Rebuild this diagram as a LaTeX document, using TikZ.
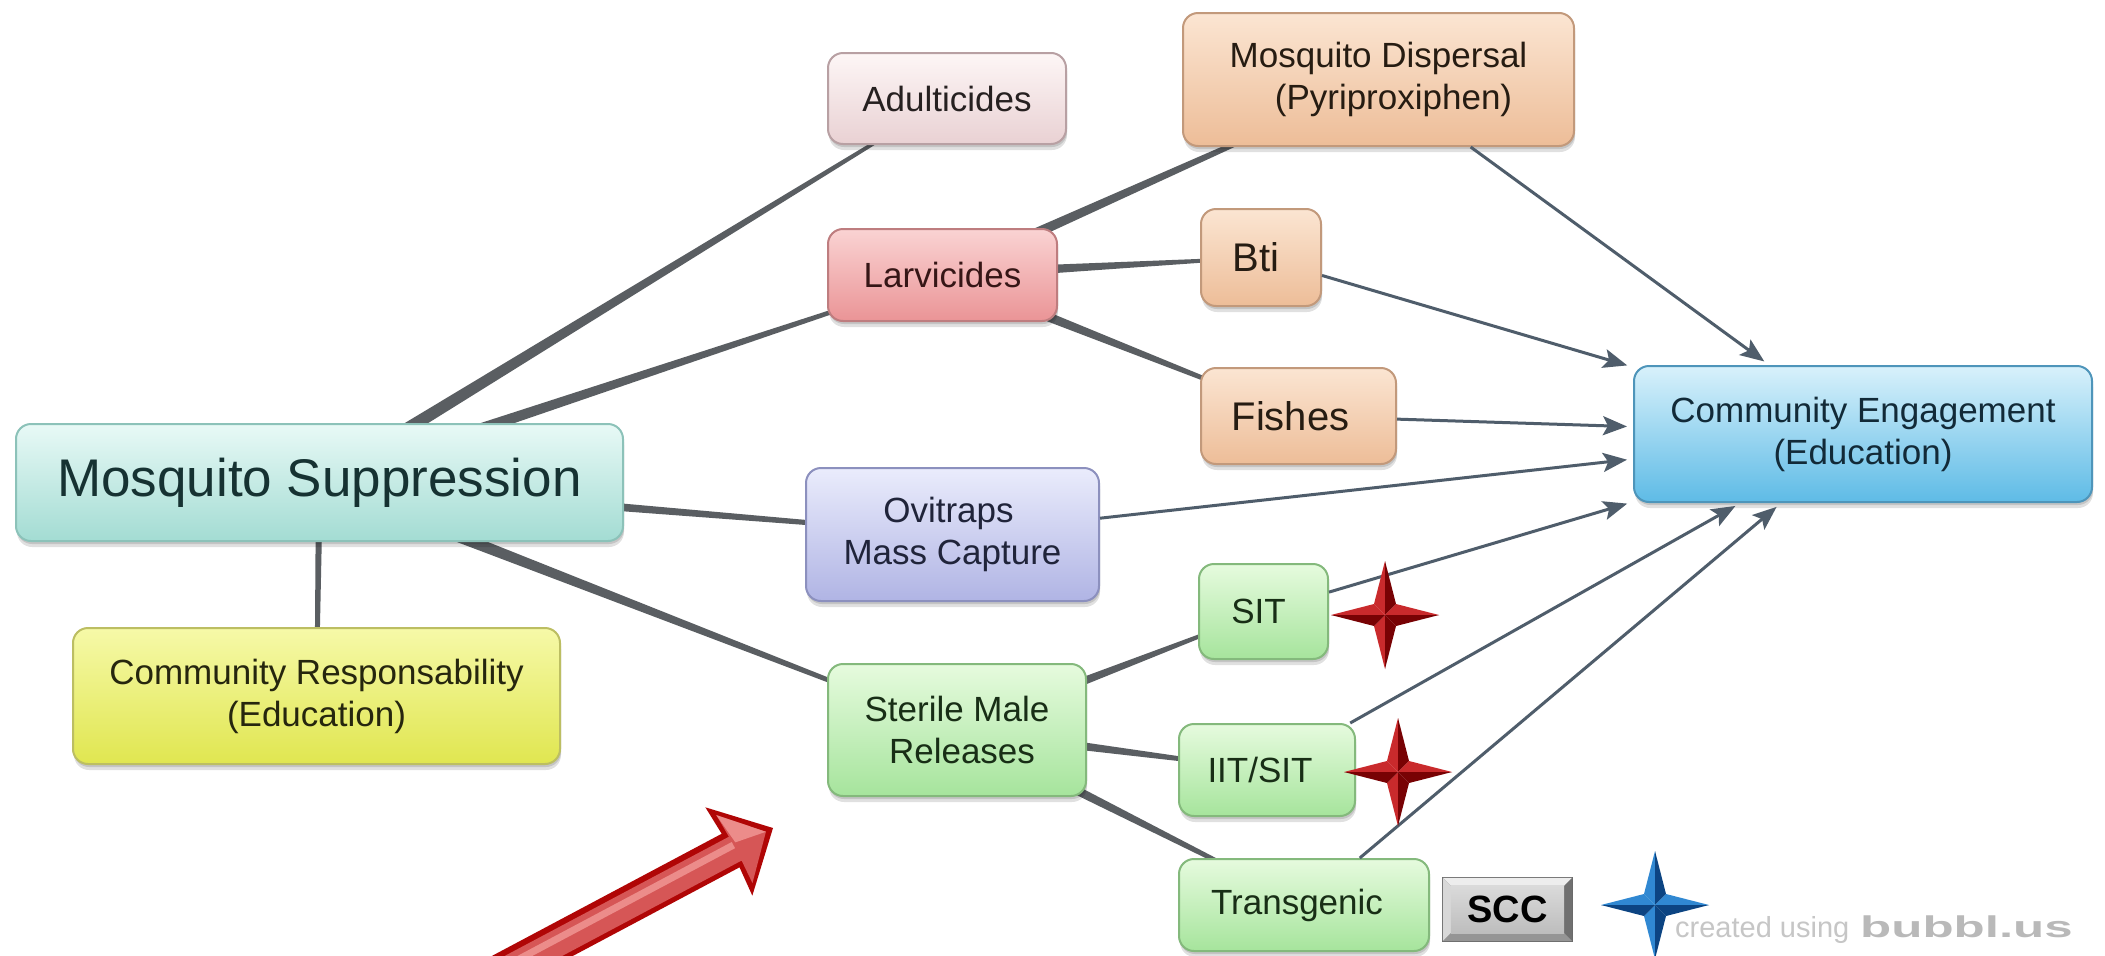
\documentclass[tikz,border=0pt]{standalone}
\usepackage{fontspec}
\usepackage{graphicx}
\setmainfont{Liberation Sans}
\usetikzlibrary{calc,arrows.meta,shadows}
\pgfdeclarelayer{bg}
\pgfsetlayers{bg,main}

% node palettes: T = top, L = bottom, B = border, X = text
\definecolor{mintT}{HTML}{E8F9F6}\definecolor{mintL}{HTML}{A3DCD3}\definecolor{mintB}{HTML}{8CC2B9}\definecolor{mintX}{HTML}{163232}
\definecolor{yelT}{HTML}{F6F9A8}\definecolor{yelL}{HTML}{E0E650}\definecolor{yelB}{HTML}{BCBE62}\definecolor{yelX}{HTML}{26260E}
\definecolor{roseT}{HTML}{FDF6F6}\definecolor{roseL}{HTML}{E9D1D3}\definecolor{roseB}{HTML}{B8A0A3}\definecolor{roseX}{HTML}{262020}
\definecolor{peachT}{HTML}{FBE5D2}\definecolor{peachL}{HTML}{EDBD98}\definecolor{peachB}{HTML}{C2997B}\definecolor{peachX}{HTML}{261C12}
\definecolor{pinkT}{HTML}{FAD3D3}\definecolor{pinkL}{HTML}{EA9496}\definecolor{pinkB}{HTML}{BE7D7F}\definecolor{pinkX}{HTML}{361616}
\definecolor{lavT}{HTML}{EAECFC}\definecolor{lavL}{HTML}{B0B4E4}\definecolor{lavB}{HTML}{8C90BE}\definecolor{lavX}{HTML}{20243A}
\definecolor{grnT}{HTML}{E6FBDE}\definecolor{grnL}{HTML}{A6E49C}\definecolor{grnB}{HTML}{84B97C}\definecolor{grnX}{HTML}{182E16}
\definecolor{bluT}{HTML}{D8F1FB}\definecolor{bluL}{HTML}{5EBBE6}\definecolor{bluB}{HTML}{4E95BA}\definecolor{bluX}{HTML}{122A38}
% connectors, stars, badge, watermark
\definecolor{linkcol}{HTML}{5A5E62}
\definecolor{arrcol}{HTML}{4F5D6B}
\definecolor{redL}{HTML}{C92A2C}\definecolor{redD}{HTML}{780204}
\definecolor{bluStarL}{HTML}{3088D2}\definecolor{bluStarD}{HTML}{0C4482}
\definecolor{bigD}{HTML}{B00606}\definecolor{bigM}{HTML}{D65656}\definecolor{bigH}{HTML}{EC8C8A}
\definecolor{sccEdge}{HTML}{6A6A6A}\definecolor{sccTop}{HTML}{EDEDED}\definecolor{sccLeft}{HTML}{D8D8D8}
\definecolor{sccRight}{HTML}{707070}\definecolor{sccBot}{HTML}{959595}
\definecolor{sccFaceT}{HTML}{DADADA}\definecolor{sccFaceL}{HTML}{BDBDBD}
\definecolor{wmA}{HTML}{C6C6C6}\definecolor{wmB}{HTML}{B9B9B9}

\tikzset{
  box/.style={rounded corners=15pt, draw, line width=2pt, inner sep=0pt, align=center,
    font=\fontsize{35}{42}\selectfont,
    drop shadow={shadow xshift=1pt, shadow yshift=-6pt, opacity=0.12, fill=black},
    drop shadow={shadow xshift=1pt, shadow yshift=-3pt, opacity=0.12, fill=black}},
  mintbox/.style={box, draw=mintB, top color=mintT, bottom color=mintL, text=mintX},
  yelbox/.style={box, draw=yelB, top color=yelT, bottom color=yelL, text=yelX},
  rosebox/.style={box, draw=roseB, top color=roseT, bottom color=roseL, text=roseX},
  peachbox/.style={box, draw=peachB, top color=peachT, bottom color=peachL, text=peachX},
  pinkbox/.style={box, draw=pinkB, top color=pinkT, bottom color=pinkL, text=pinkX},
  lavbox/.style={box, draw=lavB, top color=lavT, bottom color=lavL, text=lavX},
  grnbox/.style={box, draw=grnB, top color=grnT, bottom color=grnL, text=grnX},
  blubox/.style={box, draw=bluB, top color=bluT, bottom color=bluL, text=bluX},
  arr/.style={draw=arrcol, line width=3pt, -{Stealth[length=24pt,width=19pt,inset=5pt]}, shorten >=6pt},
}

% tapered link from node #1 (half width #3) to node #2 (half width #4)
\newcommand{\taper}[4]{%
  \fill[linkcol] ($(#1.center)!#3!90:(#2.center)$) -- ($(#2.center)!#4!-90:(#1.center)$)
    -- ($(#2.center)!#4!90:(#1.center)$) -- ($(#1.center)!#3!-90:(#2.center)$) -- cycle;}

% four-pointed bevelled star: centre, outer radius, inner radius, light, dark
\newcommand{\fourstar}[5]{%
  \begin{scope}[shift={(#1)}]
    \fill[#4] (0,0) -- (0,-#2) -- (-#3,-#3) -- cycle;
    \fill[#5] (0,0) -- (0,-#2) -- (#3,-#3) -- cycle;
    \fill[#4] (0,0) -- (#2,0) -- (#3,-#3) -- cycle;
    \fill[#5] (0,0) -- (#2,0) -- (#3,#3) -- cycle;
    \fill[#4] (0,0) -- (0,#2) -- (-#3,#3) -- cycle;
    \fill[#5] (0,0) -- (0,#2) -- (#3,#3) -- cycle;
    \fill[#4] (0,0) -- (-#2,0) -- (-#3,-#3) -- cycle;
    \fill[#5] (0,0) -- (-#2,0) -- (-#3,#3) -- cycle;
  \end{scope}}

\begin{document}
\begin{tikzpicture}[x=1pt,y=-1pt]
\begin{pgfonlayer}{bg}
  \fill[white] (0,0) rectangle (2105,956);
\end{pgfonlayer}
\useasboundingbox (0,0) rectangle (2105,956);

% ---- nodes ----
\node[mintbox, minimum width=607pt, minimum height=117pt, font=\fontsize{53}{60}\selectfont] (ms) at (319.5,482.5) {Mosquito Suppression};
\node[yelbox, minimum width=487pt, minimum height=136pt] (cr) at (316.5,696) {Community Responsability\\(Education)};
\node[rosebox, minimum width=238pt, minimum height=91pt] (adult) at (947,98.5) {Adulticides};
\node[peachbox, minimum width=391pt, minimum height=133pt] (disp) at (1378.5,79.5) {Mosquito Dispersal\\\hspace*{30pt}(Pyriproxiphen)};
\node[pinkbox, minimum width=229pt, minimum height=92pt] (larv) at (942.5,275) {Larvicides};
\node[peachbox, minimum width=120pt, minimum height=97pt, font=\fontsize{40}{46}\selectfont] (bti) at (1261,257.5) {Bti\hspace*{10pt}};
\node[peachbox, minimum width=195pt, minimum height=96pt, font=\fontsize{40}{46}\selectfont] (fish) at (1298.5,416) {Fishes\hspace*{16pt}};
\node[lavbox, minimum width=293pt, minimum height=133pt] (ovi) at (952.5,534.5) {Ovitraps\hspace*{8pt}\\Mass Capture};
\node[grnbox, minimum width=258pt, minimum height=132pt] (ster) at (957,730) {Sterile Male\\\hspace*{10pt}Releases};
\node[grnbox, minimum width=129pt, minimum height=95pt] (sit) at (1263.5,611.5) {SIT\hspace*{10pt}};
\node[grnbox, minimum width=176pt, minimum height=92pt] (iit) at (1267,770) {IIT/SIT\hspace*{14pt}};
\node[grnbox, minimum width=250pt, minimum height=92pt] (trans) at (1304,905) {Transgenic\hspace*{14pt}};
\node[blubox, minimum width=458pt, minimum height=136pt] (ce) at (1863,434) {Community Engagement\\(Education)};

% ---- SCC badge ----
\node[minimum width=131pt, minimum height=65pt, inner sep=0pt, font=\bfseries\fontsize{38}{40}\selectfont] (scc) at (1507.5,909.5) {SCC};
\begin{pgfonlayer}{bg}
  \fill[sccEdge] (scc.north west) rectangle (scc.south east);
  \fill[sccTop] ($(scc.north west)+(1,1)$) -- ($(scc.north east)+(-1,1)$) -- ($(scc.north east)+(-9,9)$) -- ($(scc.north west)+(9,9)$) -- cycle;
  \fill[sccLeft] ($(scc.north west)+(1,1)$) -- ($(scc.north west)+(9,9)$) -- ($(scc.south west)+(9,-9)$) -- ($(scc.south west)+(1,-1)$) -- cycle;
  \fill[sccRight] ($(scc.north east)+(-1,1)$) -- ($(scc.south east)+(-1,-1)$) -- ($(scc.south east)+(-9,-9)$) -- ($(scc.north east)+(-9,9)$) -- cycle;
  \fill[sccBot] ($(scc.south west)+(1,-1)$) -- ($(scc.south west)+(9,-9)$) -- ($(scc.south east)+(-9,-9)$) -- ($(scc.south east)+(-1,-1)$) -- cycle;
  \shade[top color=sccFaceT, bottom color=sccFaceL] ($(scc.north west)+(9,9)$) rectangle ($(scc.south east)+(-9,-9)$);
\end{pgfonlayer}

% ---- tapered links ----
\begin{pgfonlayer}{bg}
  \taper{ms}{adult}{7pt}{1.2pt}
  \taper{ms}{larv}{7pt}{1.2pt}
  \taper{ms}{ovi}{6pt}{1.5pt}
  \taper{ms}{ster}{7pt}{1.2pt}
  \taper{ms}{cr}{3.5pt}{2pt}
  \taper{larv}{disp}{6pt}{1pt}
  \taper{larv}{bti}{6pt}{1pt}
  \taper{larv}{fish}{6pt}{1pt}
  \taper{ster}{sit}{6pt}{1pt}
  \taper{ster}{iit}{6pt}{1pt}
  \taper{ster}{trans}{6pt}{1pt}
\end{pgfonlayer}

% ---- arrows into Community Engagement ----
\draw[arr] (disp) -- (ce);
\draw[arr] (bti) -- (ce);
\draw[arr] (fish) -- (ce);
\draw[arr] (ovi) -- (ce);
\draw[arr] (sit) -- (ce);
\draw[arr] (iit) -- (ce);
\draw[arr] (trans) -- (ce);

% ---- stars ----
\coordinate (starA) at (1385,615);
\coordinate (starB) at (1398,772);
\coordinate (starC) at (1655,905);
\fourstar{starA}{54}{11}{redL}{redD}
\fourstar{starB}{54}{11}{redL}{redD}
\fourstar{starC}{54}{11}{bluStarL}{bluStarD}

% ---- watermark ----
\node[anchor=base west, inner sep=0pt, text=wmA, font=\fontsize{29}{30}\selectfont] (cu) at (1675,937) {created using};
\node[anchor=base west, inner sep=0pt, text=wmB, font=\bfseries\fontsize{30}{30}\selectfont] (bb) at (1860,937) {\scalebox{1.7}[1]{bubbl.us}};

% ---- big 3D pointer ----
\begin{scope}
  \clip (0,0) rectangle (2105,956);
  \begin{scope}[shift={(773,828)}, rotate=28]
    \fill[bigD] (0,0) -- (-50,-50) -- (-48,-19) -- (-520,-19) -- (-520,19) -- (-48,19) -- (-50,50) -- cycle;
    \fill[bigM] (-8,0) -- (-44,-38) -- (-43,-13) -- (-520,-13) -- (-520,14) -- (-43,14) -- (-44,39) -- cycle;
    \fill[bigH] (-8,0) -- (-44,-38) -- (-40,-5) -- cycle;
    \fill[bigH] (-43,-7) rectangle (-520,0);
  \end{scope}
\end{scope}
\end{tikzpicture}
\end{document}
